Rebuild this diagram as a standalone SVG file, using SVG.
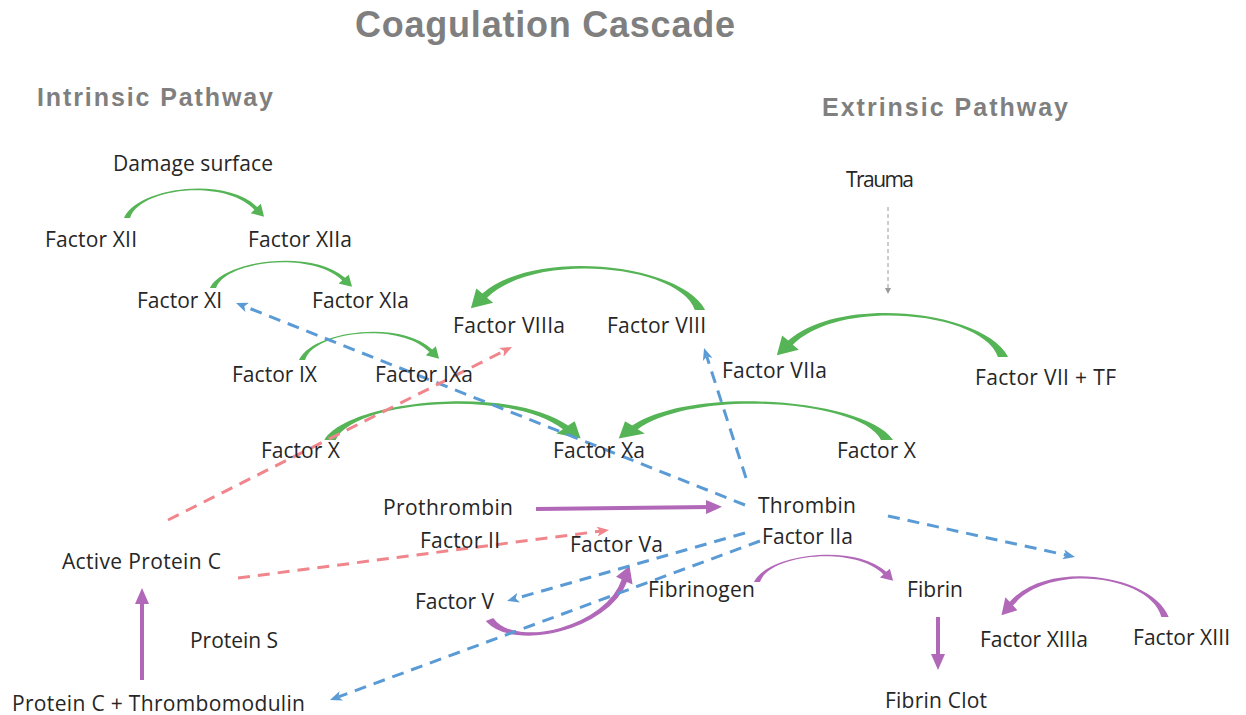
<svg xmlns="http://www.w3.org/2000/svg" width="1246" height="715" viewBox="0 0 1246 715">
<style>
.lbl{font-family:"Open Sans","Liberation Sans",sans-serif;font-size:21px;fill:#262626}
.hdr{font-family:"Liberation Sans",Arial,sans-serif;font-weight:bold;fill:#7f7f7f}
.ga{fill:#55b455}
.pa{fill:#b168b8}
.blue{fill:none;stroke:#5b9bd5;stroke-width:3;stroke-dasharray:12 8;marker-end:url(#mb)}
.red{fill:none;stroke:#f0868c;stroke-width:3;stroke-dasharray:12 8;marker-end:url(#mr)}
.pl{fill:none;stroke:#b168b8;stroke-width:4;marker-end:url(#mp)}
.gray{fill:none;stroke:#9a9a9a;stroke-width:1;stroke-dasharray:4 3;marker-end:url(#mg)}
</style>
<defs>
<path id="arc" d="M-2.2,0 C7.4,-22.2 70,-30.9 93,-8 L95.6,-10.45 L97.9,-0.9 L88.4,-3.55 L91,-6 C70,-29.1 8.6,-21.8 2.2,0 Z"/>
<marker id="mb" viewBox="0 0 12 10" refX="3" refY="5" markerWidth="12" markerHeight="10" markerUnits="userSpaceOnUse" orient="auto"><path d="M0,0 L12,5 L0,10 L3,5 Z" fill="#5b9bd5"/></marker>
<marker id="mr" viewBox="0 0 12 10" refX="3" refY="5" markerWidth="12" markerHeight="10" markerUnits="userSpaceOnUse" orient="auto"><path d="M0,0 L12,5 L0,10 L3,5 Z" fill="#f0868c"/></marker>
<marker id="mp" viewBox="0 0 16 14" refX="4" refY="7" markerWidth="16" markerHeight="14" markerUnits="userSpaceOnUse" orient="auto"><path d="M0,0 L16,7 L0,14 Z" fill="#b168b8"/></marker>
<marker id="mg" viewBox="0 0 6 6" refX="3" refY="3" markerWidth="6" markerHeight="6" markerUnits="userSpaceOnUse" orient="auto"><path d="M0,0 L6,3 L0,6 Z" fill="#9a9a9a"/></marker>
</defs>
<rect width="1246" height="715" fill="#ffffff"/>

<g id="title"><text class="hdr" x="355" y="37" font-size="36" textLength="380">Coagulation Cascade</text></g>
<g id="intrinsic"><text class="hdr" x="37" y="106" font-size="25" textLength="236">Intrinsic Pathway</text></g>
<g id="extrinsic"><text class="hdr" x="822" y="116" font-size="25" textLength="246">Extrinsic Pathway</text></g>

<g id="connectors">
  <!-- green curved arrows -->
  <use href="#arc" class="ga" transform="translate(127,218) scale(1.4,1.37)"/>
  <use href="#arc" class="ga" transform="translate(213,288) scale(1.42,1.27)"/>
  <use href="#arc" class="ga" transform="translate(302,360) scale(1.4,1.32)"/>
  <use href="#arc" class="ga" transform="translate(700,310) scale(-2.34,2.05)"/>
  <use href="#arc" class="ga" transform="translate(1003,357) scale(-2.31,2.05)"/>
  <use href="#arc" class="ga" transform="translate(330,440) scale(2.56,1.8)"/>
  <use href="#arc" class="ga" transform="translate(887,440) scale(-2.74,1.8)"/>
  <!-- purple curved arrows -->
  <use href="#arc" class="pa" stroke="#b168b8" stroke-width="0.8" transform="translate(490,620) rotate(-21.4) scale(1.52,-1.7)"/>
  <use href="#arc" class="pa" transform="translate(757,582) scale(1.39,1.27)"/>
  <use href="#arc" class="pa" transform="translate(1165,617) scale(-1.67,1.9)"/>
  <!-- purple straight arrows -->
  <path class="pl" d="M536,509 L710,507"/>
  <path class="pl" d="M142,680 L142,600"/>
  <path class="pl" d="M938,617 L938,658"/>
  <!-- blue dashed -->
  <path class="blue" d="M745,505 L244.4,306.3"/>
  <path class="blue" d="M746,478 L706.8,356.6"/>
  <path class="blue" d="M888,516 L1066.2,555.1"/>
  <path class="blue" d="M745,533 L515.7,598.5"/>
  <path class="blue" d="M760,541 L338.4,696.9"/>
  <!-- red dashed -->
  <path class="red" d="M168,520 L504,351"/>
  <path class="red" d="M238,578 L600.1,531.2"/>
  <!-- gray -->
  <path class="gray" d="M888,207 L888,291"/>
</g>

<g id="damage-surface"><text class="lbl" x="113" y="171" textLength="160">Damage surface</text></g>
<g id="trauma"><text class="lbl" x="846" y="187" textLength="68">Trauma</text></g>
<g id="factor-xii"><text class="lbl" x="45" y="247" textLength="92">Factor XII</text></g>
<g id="factor-xiia"><text class="lbl" x="248" y="247" textLength="104">Factor XIIa</text></g>
<g id="factor-xi"><text class="lbl" x="137" y="308" textLength="85">Factor XI</text></g>
<g id="factor-xia"><text class="lbl" x="312" y="308" textLength="97">Factor XIa</text></g>
<g id="factor-viiia"><text class="lbl" x="453" y="333" textLength="112">Factor VIIIa</text></g>
<g id="factor-viii"><text class="lbl" x="607" y="333" textLength="99">Factor VIII</text></g>
<g id="factor-ix"><text class="lbl" x="232" y="382" textLength="85">Factor IX</text></g>
<g id="factor-ixa"><text class="lbl" x="375" y="382" textLength="98">Factor IXa</text></g>
<g id="factor-viia"><text class="lbl" x="722" y="378" textLength="105">Factor VIIa</text></g>
<g id="factor-vii-tf"><text class="lbl" x="975" y="385" textLength="141">Factor VII + TF</text></g>
<g id="factor-x-left"><text class="lbl" x="261" y="458" textLength="79">Factor X</text></g>
<g id="factor-xa"><text class="lbl" x="553" y="458" textLength="92">Factor Xa</text></g>
<g id="factor-x-right"><text class="lbl" x="837" y="458" textLength="79">Factor X</text></g>
<g id="prothrombin"><text class="lbl" x="383" y="515" textLength="130">Prothrombin</text></g>
<g id="thrombin"><text class="lbl" x="758" y="513" textLength="98">Thrombin</text></g>
<g id="factor-ii"><text class="lbl" x="420" y="548" textLength="80">Factor II</text></g>
<g id="factor-va"><text class="lbl" x="570" y="552" textLength="93">Factor Va</text></g>
<g id="factor-iia"><text class="lbl" x="762" y="544" textLength="91">Factor IIa</text></g>
<g id="active-protein-c"><text class="lbl" x="62" y="569" textLength="159">Active Protein C</text></g>
<g id="fibrinogen"><text class="lbl" x="648" y="597" textLength="107">Fibrinogen</text></g>
<g id="fibrin"><text class="lbl" x="907" y="597" textLength="56">Fibrin</text></g>
<g id="factor-v"><text class="lbl" x="415" y="609" textLength="79">Factor V</text></g>
<g id="protein-s"><text class="lbl" x="190" y="648" textLength="88">Protein S</text></g>
<g id="factor-xiiia"><text class="lbl" x="980" y="647" textLength="108">Factor XIIIa</text></g>
<g id="factor-xiii"><text class="lbl" x="1133" y="645" textLength="97">Factor XIII</text></g>
<g id="protein-c-thrombomodulin"><text class="lbl" x="12" y="711" textLength="293">Protein C + Thrombomodulin</text></g>
<g id="fibrin-clot"><text class="lbl" x="885" y="708" textLength="102">Fibrin Clot</text></g>
</svg>
